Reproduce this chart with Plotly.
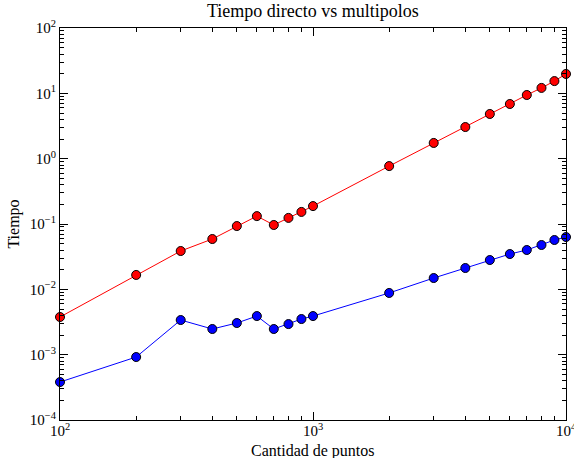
import plotly.graph_objects as go

puntos = [100, 200, 300, 400, 500, 600, 700, 800, 900, 1000,
          2000, 3000, 4000, 5000, 6000, 7000, 8000, 9000, 10000]
tiempo_directo = [0.00377, 0.0166, 0.0386, 0.0589, 0.093, 0.132, 0.0966, 0.124, 0.153, 0.188,
                  0.77, 1.74, 3.05, 4.83, 6.87, 9.43, 12.1, 15.4, 19.8]
tiempo_multipolos = [0.000381, 0.00092, 0.00339, 0.00247, 0.00305, 0.0039, 0.00247, 0.00294, 0.00351, 0.0039,
                     0.0088, 0.0149, 0.0212, 0.0281, 0.0347, 0.040, 0.0477, 0.0569, 0.0632]

x_tickvals = [100, 1000, 10000]
x_ticktext = ["10<sup>2</sup>", "10<sup>3</sup>", "10<sup>4</sup>"]
y_tickvals = [1e-4, 1e-3, 1e-2, 1e-1, 1, 10, 100]
y_ticktext = ["10<sup>−4</sup>", "10<sup>−3</sup>", "10<sup>−2</sup>", "10<sup>−1</sup>",
              "10<sup>0</sup>", "10<sup>1</sup>", "10<sup>2</sup>"]

x_minor = [m * d for d in x_tickvals[:-1] for m in range(2, 10)]
y_minor = [m * d for d in y_tickvals[:-1] for m in range(2, 10)]

FONT = "Liberation Serif"

fig = go.Figure()
fig.add_trace(go.Scatter(x=puntos, y=tiempo_directo, mode="lines+markers",
                         line=dict(color="red", width=1),
                         marker=dict(color="red", size=9, line=dict(color="black", width=1)),
                         cliponaxis=False, showlegend=False))
fig.add_trace(go.Scatter(x=puntos, y=tiempo_multipolos, mode="lines+markers",
                         line=dict(color="blue", width=1),
                         marker=dict(color="blue", size=9, line=dict(color="black", width=1)),
                         cliponaxis=False, showlegend=False))

axis_common = dict(showgrid=False, zeroline=False, showline=True, linecolor="black", linewidth=1,
                   mirror="allticks", ticks="inside", ticklen=8, tickcolor="black", tickwidth=1,
                   automargin=False, ticklabeloverflow="allow",
                   tickfont=dict(family=FONT, size=15, color="black"))

fig.update_xaxes(type="log", range=[2, 4], tickvals=x_tickvals, ticktext=x_ticktext,
                 minor=dict(tickvals=x_minor, ticks="inside", ticklen=4, tickcolor="black", tickwidth=1, showgrid=False),
                 ticklabelstandoff=-3,
                 **axis_common)
fig.update_yaxes(type="log", range=[-4, 2], tickvals=y_tickvals, ticktext=y_ticktext,
                 minor=dict(tickvals=y_minor, ticks="inside", ticklen=4, tickcolor="black", tickwidth=1, showgrid=False),
                 title=dict(text="Tiempo", font=dict(family=FONT, size=16, color="black"), standoff=6),
                 **axis_common)

fig.add_annotation(text="Cantidad de puntos", xref="paper", yref="paper", x=0.5, y=0,
                   xanchor="center", yanchor="middle", yshift=-31, showarrow=False,
                   font=dict(family=FONT, size=16, color="black"))

fig.update_layout(
    width=574, height=458,
    margin=dict(l=60, r=8, t=28, b=38),
    paper_bgcolor="white", plot_bgcolor="white",
    title=dict(text="Tiempo directo vs multipolos", x=0.545, xanchor="center", y=0.99, yanchor="top",
               font=dict(family=FONT, size=18, color="black")),
)

fig.write_html("out.html")
